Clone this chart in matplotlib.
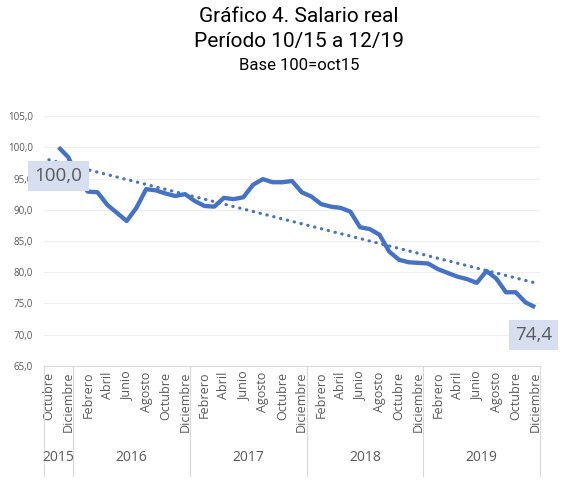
import numpy as np
import matplotlib.pyplot as plt
from matplotlib.transforms import blended_transform_factory

# Monthly index, Oct 2015 = position 0 ... Dec 2019 = position 50
months_abbr = ['Octubre', 'Diciembre',
               'Febrero', 'Abril', 'Junio', 'Agosto', 'Octubre', 'Diciembre',
               'Febrero', 'Abril', 'Junio', 'Agosto', 'Octubre', 'Diciembre',
               'Febrero', 'Abril', 'Junio', 'Agosto', 'Octubre', 'Diciembre',
               'Febrero', 'Abril', 'Junio', 'Agosto', 'Octubre', 'Diciembre']
years = ['2015', '2016', '2017', '2018', '2019']
year_months = [3, 12, 12, 12, 12]

salario = [100.0, 98.4, 95.0, 92.9, 92.8, 90.8, 89.5, 88.2, 90.3, 93.3,
           93.1, 92.6, 92.2, 92.5, 91.4, 90.6, 90.5, 91.9, 91.7, 92.0,
           94.0, 94.9, 94.4, 94.4, 94.6, 92.8, 92.1, 90.9, 90.5, 90.3,
           89.7, 87.2, 86.9, 86.0, 83.3, 82.0, 81.6, 81.5, 81.4, 80.5,
           79.9, 79.3, 78.9, 78.3, 80.2, 79.0, 76.8, 76.8, 75.2, 74.4]

blue = '#4472C4'
grey = '#595959'
n_cat = sum(year_months)
x = np.arange(1, len(salario) + 1)
y = np.array(salario)

fig = plt.figure(figsize=(5.61, 4.84), dpi=100)
ax = fig.add_axes([44 / 561, 1 - 366 / 484, 496 / 561, 250 / 484])

ax.plot(x, y, color=blue, linewidth=3.1, solid_joinstyle='round',
        solid_capstyle='butt', zorder=3)

# linear trend, one period backward
coef = np.polyfit(x, y, 1)
xt = np.array([0, n_cat - 1])
ax.plot(xt, np.polyval(coef, xt), color=blue, linewidth=2.3,
        linestyle=(0, (0.1, 2.1)), dash_capstyle='round', zorder=2)

box = dict(boxstyle='square,pad=0.33', facecolor='#D6DEF0', edgecolor='none')
ax.annotate('100,0', xy=(x[0], y[0]), xytext=(0, -20.5), textcoords='offset points',
            ha='center', va='center', fontsize=13.5, color=grey,
            family='Open Sans', bbox=box, zorder=5)
ax.annotate('74,4', xy=(x[-1], y[-1]), xytext=(-1, -20), textcoords='offset points',
            ha='center', va='center', fontsize=13.5, color=grey,
            family='Open Sans', bbox=box, zorder=5)

ax.set_xlim(-0.5, n_cat - 0.5)
ax.set_ylim(65, 105)
ax.set_yticks(np.arange(65, 106, 5))
ax.set_yticklabels([f'{v:.1f}'.replace('.', ',') for v in np.arange(65, 106, 5)],
                   fontsize=7, color=grey, family='Open Sans')
ax.yaxis.grid(True, color='#EEEEEE', linewidth=0.8)
ax.set_axisbelow(True)
ax.tick_params(axis='y', length=0, pad=8)

ax.set_xticks(np.arange(0, n_cat, 2))
ax.set_xticklabels(months_abbr, rotation=90, fontsize=9, color=grey,
                   family='Open Sans', va='top')
ax.tick_params(axis='x', length=0, pad=4)

for s in ['top', 'right', 'left']:
    ax.spines[s].set_visible(False)
ax.spines['bottom'].set_color('#D9D9D9')

# year groups under the month labels
trans = blended_transform_factory(ax.transData, ax.transAxes)
edges = np.concatenate([[0], np.cumsum(year_months)]) - 0.5
for e in edges:
    ax.plot([e, e], [0, -0.44], transform=trans, color='#D9D9D9',
            linewidth=0.8, clip_on=False)
for yr, a, b in zip(years, edges[:-1], edges[1:]):
    ax.text((a + b) / 2, -0.365, yr, transform=trans, ha='center', va='center',
            fontsize=10, color=grey, family='Open Sans')

cx = 299 / 561
fig.text(cx, 1 - 16 / 484, 'Gráfico 4. Salario real', ha='center', va='center',
         fontsize=15, family='Roboto')
fig.text(cx, 1 - 42 / 484, 'Período 10/15 a 12/19', ha='center', va='center',
         fontsize=15, family='Roboto')
fig.text(cx, 1 - 65 / 484, 'Base 100=oct15', ha='center', va='center',
         fontsize=12, family='Roboto')

fig.savefig('out.png', dpi=100)
